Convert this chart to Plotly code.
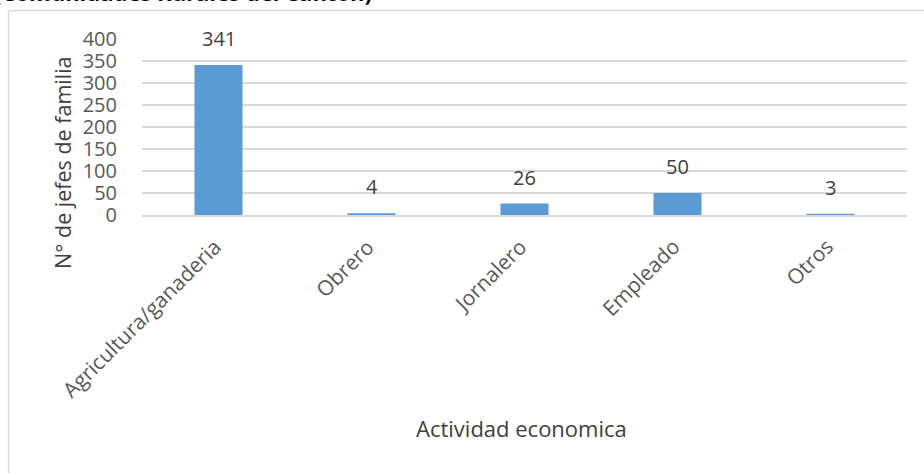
import plotly.graph_objects as go

# ---- data ----
categories = ["Agricultura/ganaderia", "Obrero", "Jornalero", "Empleado", "Otros"]
values = [341, 4, 26, 50, 3]
y_ticks = [0, 50, 100, 150, 200, 250, 300, 350, 400]
x_title = "Actividad economica"
y_title = "N° de jefes de familia"
top_title = "(Comunidades Rurales del Cantón)"

# ---- layout constants (pixels) ----
W, H = 924, 473
ML, MR, MT, MB = 142, 17, 39, 258
PW, PH = W - ML - MR, H - MT - MB
FONT = "Open Sans"


def px_x(px):
    return (px - ML) / PW


def px_y(py):
    return (H - MB - py) / PH


fig = go.Figure()
fig.add_trace(go.Bar(
    x=categories, y=values,
    marker=dict(color="#5b9bd5", line=dict(width=0)),
    width=0.314,
    hoverinfo="skip",
))

annotations = []
# data labels
for c, v in zip(categories, values):
    annotations.append(dict(
        x=c, y=v, xref="x", yref="y", text=str(v), showarrow=False,
        yanchor="bottom", yshift=11,
        font=dict(family=FONT, size=20, color="#404040"),
    ))
# rotated category labels
for c in categories:
    annotations.append(dict(
        x=c, y=px_y(230), xref="x", yref="paper", text=c, showarrow=False,
        xanchor="right", yanchor="top", textangle=-45, xshift=11,
        font=dict(family=FONT, size=21, color="#595959"),
    ))

annotations.append(dict(
    x=px_x(521), y=px_y(428), xref="paper", yref="paper", text=x_title,
    showarrow=False, xanchor="center", yanchor="middle",
    font=dict(family=FONT, size=22, color="#404040"),
))
annotations.append(dict(
    x=px_x(62), y=px_y(163), xref="paper", yref="paper", text=y_title,
    showarrow=False, xanchor="center", yanchor="middle", textangle=-90,
    font=dict(family=FONT, size=21.5, color="#404040"),
))
annotations.append(dict(
    x=px_x(374), y=px_y(9), xref="paper", yref="paper", text="<b>" + top_title + "</b>",
    showarrow=False, xanchor="right", yanchor="bottom",
    font=dict(family=FONT, size=22, color="#000000"),
))

shapes = [
    dict(type="line", xref="paper", yref="paper",
         x0=px_x(8.5), x1=px_x(8.5), y0=px_y(10.5), y1=px_y(H + 5),
         line=dict(color="#d9d9d9", width=1.5)),
    dict(type="line", xref="paper", yref="paper",
         x0=px_x(8.5), x1=px_x(W + 5), y0=px_y(10.5), y1=px_y(10.5),
         line=dict(color="#d9d9d9", width=1.5)),
]

fig.update_layout(
    width=W, height=H,
    margin=dict(l=ML, r=MR, t=MT, b=MB, autoexpand=False),
    paper_bgcolor="white", plot_bgcolor="white",
    showlegend=False,
    bargap=0.686,
    annotations=annotations,
    shapes=shapes,
    xaxis=dict(
        type="category", showticklabels=False,
        range=[-0.5, len(categories) - 0.5], autorange=False,
        showgrid=False, showline=True, linecolor="#d9d9d9", linewidth=1.5,
        ticks="", fixedrange=True,
    ),
    yaxis=dict(
        range=[0, 400], autorange=False, tickvals=y_ticks,
        tickfont=dict(family=FONT, size=20, color="#595959"),
        showgrid=True, gridcolor="#d9d9d9", gridwidth=1.5,
        zeroline=False, showline=False,
        ticks="outside", ticklen=20, tickcolor="rgba(0,0,0,0)",
        fixedrange=True,
    ),
)

fig.write_html(
    "out.html",
    config={"displayModeBar": False, "staticPlot": True},
    post_script="document.body.style.margin='0';document.body.style.overflow='hidden';",
)
